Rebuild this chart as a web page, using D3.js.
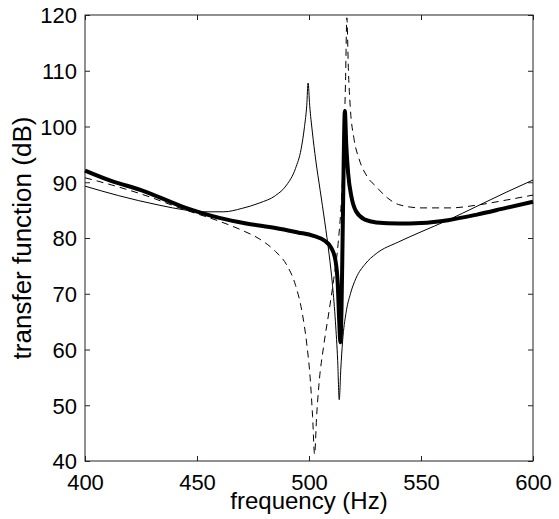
<!DOCTYPE html>
<html>
<head>
<meta charset="utf-8">
<script src="https://cdnjs.cloudflare.com/ajax/libs/d3/7.8.5/d3.min.js"></script>
<style>
  body { margin: 0; background: #fff; }
  text { font-family: "Liberation Sans", Arial, sans-serif; fill: #000; }
</style>
</head>
<body>
<div id="chart-area"></div>
<script>
// frequency (Hz), transfer function (dB)
var thinSolid = [
    [400, 89.3], [415, 87.6], [433, 85.9], [445, 85.0], [452, 84.7], [462, 84.7],
    [470, 85.3], [478, 86.3], [485, 87.6], [490, 89.5], [494, 92.5], [496.5, 96],
    [498, 100], [499, 103.8], [499.6, 107.8], [500.3, 103.8], [501.5, 99], [503, 94],
    [505, 88.5], [507, 83], [509, 77], [510.5, 71.5], [511.8, 65], [512.8, 58],
    [513.5, 51], [514.2, 56.5], [515, 61.5], [516.5, 66.5], [518.5, 70], [521, 72.8],
    [525, 75.3], [530, 77.2], [540, 79.3], [550, 81.1], [562, 83.2], [575, 85.7],
    [588, 88.2], [600, 90.4]
];

var dashed = [
    [400, 90.8], [412, 89.5], [425, 87.9], [445, 85.0], [460, 83.0], [470, 81.4],
    [478, 79.8], [485, 77.6], [490, 75.2], [494, 71.5], [497, 66.5], [499, 61],
    [500.5, 55], [501.6, 48], [502.5, 41.2], [503.4, 48], [504.5, 54], [506.5, 60.5],
    [509, 67], [511, 72.5], [513, 79], [514.5, 87], [515.5, 96], [516.3, 108],
    [516.9, 119.5], [517.6, 110], [518.5, 103], [520, 98], [522.5, 94], [526, 91],
    [530, 89.2], [535, 87.2], [540, 86.0], [550, 85.4], [563, 85.4], [575, 85.9],
    [588, 86.8], [600, 87.7]
];

var thick = [
    [400, 92.1], [412, 90.2], [425, 88.6], [445, 85.4], [460, 83.6], [472, 82.6],
    [485, 81.8], [495, 81.0], [502, 80.4], [507, 79.5], [510, 78.2], [511.8, 76],
    [512.8, 72], [513.5, 65], [514, 61.3], [514.5, 67], [515, 80], [515.5, 94],
    [516, 102.8], [516.6, 97], [517.5, 91.5], [519, 87.3], [521, 84.8], [525, 83.3],
    [530, 82.8], [540, 82.6], [550, 82.7], [562, 83.2], [575, 84.2], [588, 85.4],
    [600, 86.5]
];

var xTicks = [400, 450, 500, 550, 600];
var yTicks = [40, 50, 60, 70, 80, 90, 100, 110, 120];

var margin = { left: 85, right: 26, top: 15, bottom: 58 };
var width = 559 - margin.left - margin.right,
    height = 519 - margin.top - margin.bottom;

var svg = d3.select("#chart-area")
    .append("svg")
        .attr("width", 559)
        .attr("height", 519);

var g = svg.append("g")
    .attr("transform", "translate(" + margin.left + "," + margin.top + ")");

var x = d3.scaleLinear()
    .domain([400, 600])
    .range([0, width]);

var y = d3.scaleLinear()
    .domain([40, 120])
    .range([height, 0]);

var tickLen = 5;

// X axis (bottom labels, ticks inside on both sides)
var xAxisCall = d3.axisBottom(x)
    .tickValues(xTicks)
    .tickSize(-tickLen)
    .tickPadding(13)
    .tickFormat(d3.format("d"));
var xAxis = g.append("g")
    .attr("transform", "translate(0," + height + ")")
    .call(xAxisCall);

var xTop = g.append("g")
    .call(d3.axisTop(x).tickValues(xTicks).tickSize(-tickLen).tickFormat(""));

// Y axis
var yAxisCall = d3.axisLeft(y)
    .tickValues(yTicks)
    .tickSize(-tickLen)
    .tickPadding(8)
    .tickFormat(d3.format("d"));
var yAxis = g.append("g")
    .call(yAxisCall);

var yRight = g.append("g")
    .attr("transform", "translate(" + width + ",0)")
    .call(d3.axisRight(y).tickValues(yTicks).tickSize(-tickLen).tickFormat(""));

g.selectAll(".domain").remove();
g.selectAll(".tick line").attr("stroke", "#222");
g.selectAll(".tick text")
    .attr("font-size", "22px")
    .attr("font-family", "Liberation Sans, Arial, sans-serif")
    .attr("fill", "#000");
yAxis.selectAll(".tick text").attr("dy", "0.36em");

// box
g.append("rect")
    .attr("x", 0)
    .attr("y", 0)
    .attr("width", width)
    .attr("height", height)
    .attr("fill", "none")
    .attr("stroke", "#222")
    .attr("stroke-width", 1);

// curves
var line = d3.line()
    .x(function(d){ return x(d[0]); })
    .y(function(d){ return y(d[1]); })
    .curve(d3.curveMonotoneX);

var plot = g.append("g");

plot.append("path")
    .datum(thinSolid)
    .attr("fill", "none")
    .attr("stroke", "#000")
    .attr("stroke-width", 1)
    .attr("d", line);

plot.append("path")
    .datum(dashed)
    .attr("fill", "none")
    .attr("stroke", "#000")
    .attr("stroke-width", 1)
    .attr("stroke-dasharray", "7,5")
    .attr("d", line);

plot.append("path")
    .datum(thick)
    .attr("fill", "none")
    .attr("stroke", "#000")
    .attr("stroke-width", 4)
    .attr("stroke-linejoin", "round")
    .attr("d", line);

// Labels
var xLabel = g.append("text")
    .attr("x", width / 2)
    .attr("y", height + 48)
    .attr("font-size", "24px")
    .attr("text-anchor", "middle")
    .text("frequency (Hz)");

var yLabel = g.append("text")
    .attr("transform", "rotate(-90)")
    .attr("x", -height / 2)
    .attr("y", -54)
    .attr("font-size", "26px")
    .attr("text-anchor", "middle")
    .text("transfer function (dB)");
</script>
</body>
</html>
